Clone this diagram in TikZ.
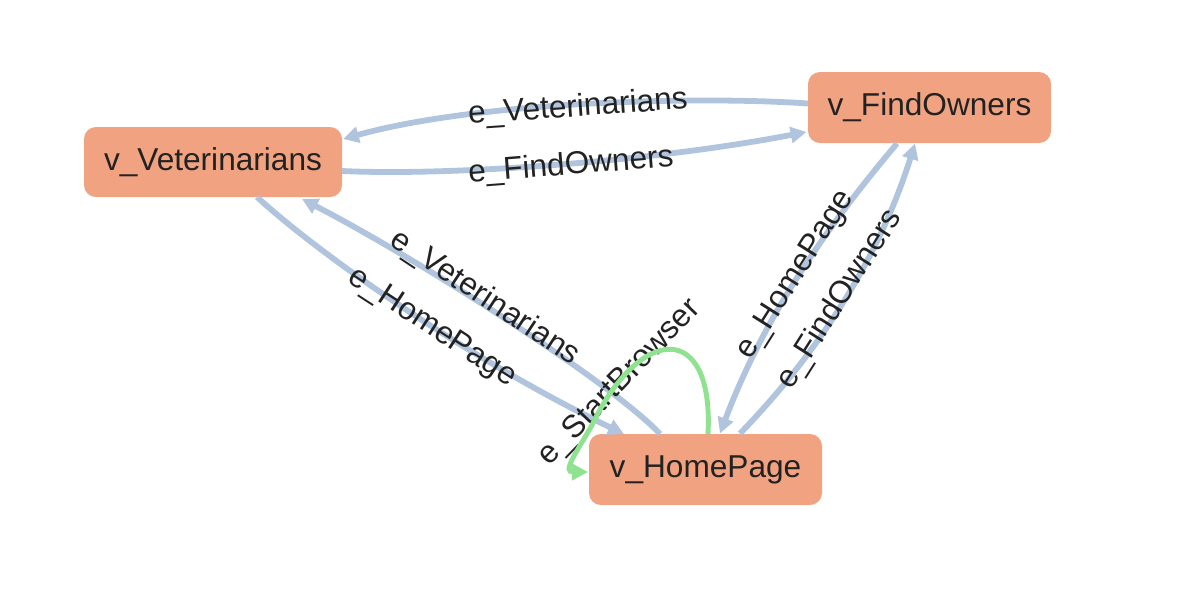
\documentclass[tikz,border=0pt]{standalone}
\usepackage{fontspec}
\setmainfont{Liberation Sans}
\usetikzlibrary{arrows.meta,calc}
\definecolor{nodefill}{HTML}{F0A281}
\definecolor{edgeblue}{HTML}{B0C4DE}
\definecolor{edgegreen}{HTML}{8FE28F}
\definecolor{txt}{HTML}{222222}
\begin{document}
\begin{tikzpicture}[x=0.02cm,y=-0.02cm,
  vtx/.style={draw=none, fill=nodefill, rounded corners=0.24cm, font=\fontsize{18}{20}\selectfont, text=txt, inner sep=0pt},
  edg/.style={draw=edgeblue, line width=3.3pt, -{Triangle[length=9pt,width=9pt]}},
  loopedge/.style={draw=edgegreen, line width=2.8pt, -{Triangle[length=9pt,width=9pt]}},
  lbl/.style={font=\fontsize{18}{20}\selectfont, text=txt, inner sep=0pt},
]
\useasboundingbox (0,0) rectangle (1200,600);
\fill[white] (0,0) rectangle (1200,600);
% nodes
\node[vtx, minimum width=258*0.02cm, minimum height=70*0.02cm] (vV) at (213,162) {v\_Veterinarians};
\node[vtx, minimum width=243*0.02cm, minimum height=71*0.02cm] (vF) at (929.5,107.5) {v\_FindOwners};
\node[vtx, minimum width=233*0.02cm, minimum height=71*0.02cm] (vH) at (705.5,469.5) {v\_HomePage};
% edges
\draw[edg] ($(vF)+(-121.5,-4)$) .. controls (700,96) and (480,101) .. ($(vV)+(130,-23)$);
\draw[edg] ($(vV)+(129,9)$) .. controls (450,176) and (650,162) .. ($(vF)+(-123,24.5)$);
\draw[edg] ($(vH)+(-45.5,-35.5)$) .. controls (615,385) and (420,260) .. ($(vV)+(89,37)$);
\draw[edg] ($(vV)+(44,35)$) .. controls (320,255) and (470,360) .. ($(vH)+(-81.5,-35.5)$);
\draw[edg] ($(vH)+(34.5,-36)$) .. controls (821,350) and (880,255) .. ($(vF)+(-14.5,36)$);
\draw[edg] ($(vF)+(-32.5,36)$) .. controls (822,232) and (762,322) .. ($(vH)+(14.5,-36)$);
% labels
\node[lbl, rotate=4] (l1) at (578,108) {e\_Veterinarians};
\node[lbl, rotate=4.5] (l2) at (571,166) {e\_FindOwners};
\node[lbl, rotate=-33.5] (l3) at (485,298) {e\_Veterinarians};
\node[lbl, rotate=-33] (l4) at (432,328) {e\_HomePage};
\node[lbl, rotate=57.7] (l5) at (796,275) {e\_HomePage};
\node[lbl, rotate=57.5] (l6) at (840,299) {e\_FindOwners};
\node[lbl, rotate=46] (l7) at (620,383) {e\_StartBrowser};
% self loop
\draw[loopedge] ($(vH)+(2.5,-35.5)$) .. controls (714,320) and (640,325) .. (592,425)
  .. controls (575,455) and (562,472) .. ($(vH)+(-117.5,2.5)$);
\end{tikzpicture}
\end{document}
